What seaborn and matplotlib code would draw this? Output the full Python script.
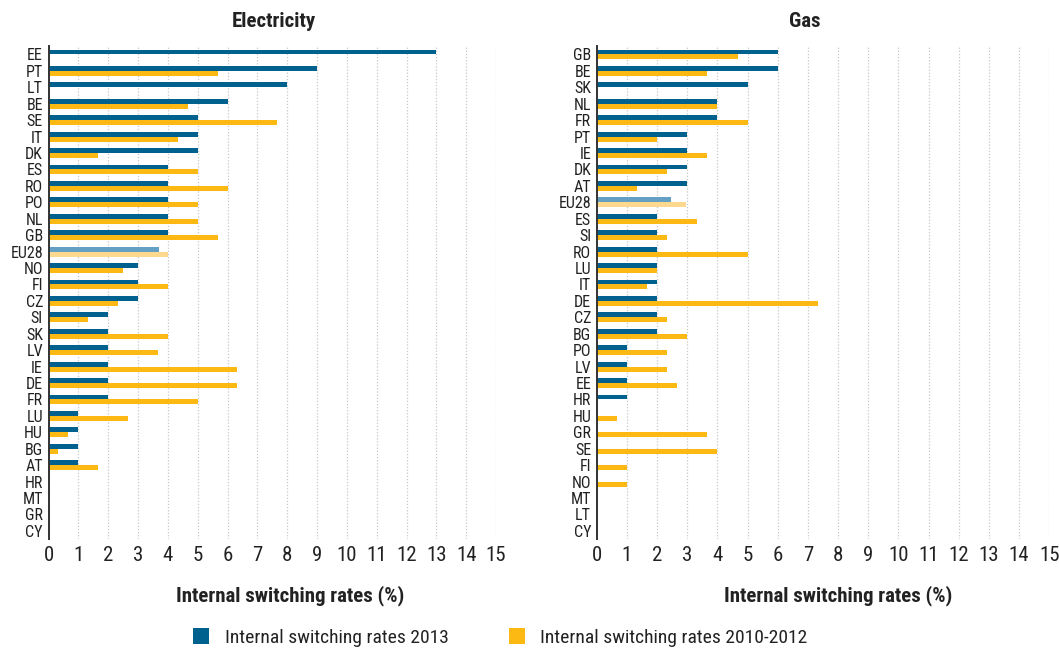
import pandas as pd
import numpy as np
import seaborn as sns
import matplotlib.pyplot as plt
from matplotlib.lines import Line2D

# Electricity panel
elec_countries = ["EE", "PT", "LT", "BE", "SE", "IT", "DK", "ES", "RO", "PO",
                  "NL", "GB", "EU28", "NO", "FI", "CZ", "SI", "SK", "LV", "IE",
                  "DE", "FR", "LU", "HU", "BG", "AT", "HR", "MT", "GR", "CY"]
elec_2013 = [13, 9, 8, 6, 5, 5, 5, 4, 4, 4,
             4, 4, 3.7, 3, 3, 3, 2, 2, 2, 2,
             2, 2, 1, 1, 1, 1, None, None, None, None]
elec_2010_2012 = [None, 5.67, None, 4.67, 7.67, 4.33, 1.67, 5, 6, 5,
                  5, 5.67, 4, 2.5, 4, 2.33, 1.33, 4, 3.67, 6.33,
                  6.33, 5, 2.67, 0.67, 0.33, 1.67, None, None, None, None]

# Gas panel
gas_countries = ["GB", "BE", "SK", "NL", "FR", "PT", "IE", "DK", "AT", "EU28",
                 "ES", "SI", "RO", "LU", "IT", "DE", "CZ", "BG", "PO", "LV",
                 "EE", "HR", "HU", "GR", "SE", "FI", "NO", "MT", "LT", "CY"]
gas_2013 = [6, 6, 5, 4, 4, 3, 3, 3, 3, 2.45,
            2, 2, 2, 2, 2, 2, 2, 2, 1, 1,
            1, 1, None, None, None, None, None, None, None, None]
gas_2010_2012 = [4.67, 3.67, None, 4, 5, 2, 3.67, 2.33, 1.33, 2.95,
                 3.33, 2.33, 5, 2, 1.67, 7.33, 2.33, 3, 2.33, 2.33,
                 2.67, None, 0.67, 3.67, 4, 1, 1, None, None, None]

SERIES = ["Internal switching rates 2013", "Internal switching rates 2010-2012"]
COLORS = ["#00618F", "#FDB913"]
EU_COLORS = ["#64A0C3", "#FDD98F"]
TEXT = "#222222"


def _long(countries, s1, s2):
    df = pd.DataFrame({"country": countries, SERIES[0]: s1, SERIES[1]: s2})
    df = df.melt(id_vars="country", var_name="series", value_name="value")
    df["value"] = pd.to_numeric(df["value"], errors="coerce")
    return df.dropna(subset=["value"])


def _panel(ax, countries, s1, s2, title, title_x, label_x):
    df = _long(countries, s1, s2)
    sns.barplot(data=df, y="country", x="value", hue="series", order=countries,
                hue_order=SERIES, palette=COLORS, orient="h", width=0.6,
                linewidth=0, saturation=1, errorbar=None, legend=False, ax=ax)
    # lighter shade for the EU average
    eu = countries.index("EU28")
    for i, cont in enumerate(ax.containers):
        for bar in cont:
            yc = bar.get_y() + bar.get_height() / 2
            if int(round(yc)) == eu:
                bar.set_facecolor(EU_COLORS[i])
    ax.set_xlim(0, 15)
    ax.set_ylim(len(countries) - 0.5, -0.5)
    ax.set_xticks(range(16))
    ax.grid(axis="x", linestyle=(0, (1, 1.5)), color="#c8c8c8", linewidth=0.9)
    ax.grid(axis="y", visible=False)
    ax.set_axisbelow(True)
    for s in ["top", "right", "bottom"]:
        ax.spines[s].set_visible(False)
    ax.spines["left"].set_color("#333333")
    ax.spines["left"].set_linewidth(1.4)
    ax.tick_params(axis="both", length=0, colors=TEXT)
    ax.tick_params(axis="y", labelsize=11.5, pad=4)
    ax.tick_params(axis="x", labelsize=15, pad=5)
    ax.set_ylabel("")
    ax.set_xlabel("Internal switching rates (%)", fontsize=15, fontweight="bold",
                  color=TEXT)
    ax.xaxis.set_label_coords(label_x, -0.093)
    ax.set_title(title, fontsize=15, fontweight="bold", color=TEXT,
                 x=title_x, pad=14)


sns.set_theme(style="white")
plt.rcParams["font.family"] = ["Roboto Condensed", "Liberation Sans", "DejaVu Sans"]

fig = plt.figure(figsize=(10.59, 6.48), dpi=100)
ax1 = fig.add_axes([0.0458, 0.168, 0.4226, 0.7606])
ax2 = fig.add_axes([0.5635, 0.168, 0.4273, 0.7606])

_panel(ax1, elec_countries, elec_2013, elec_2010_2012, "Electricity", 0.504, 0.54)
_panel(ax2, gas_countries, gas_2013, gas_2010_2012, "Gas", 0.46, 0.533)

handles = [Line2D([], [], marker="s", linestyle="", markersize=11,
                  markerfacecolor=c, markeredgewidth=0) for c in COLORS]
fig.legend(handles, SERIES, loc="center", bbox_to_anchor=(0.4726, 0.016),
           ncol=2, frameon=False, fontsize=14, columnspacing=3.1,
           handlelength=0.8, handletextpad=0.8, labelcolor=TEXT)

fig.savefig("out.png", dpi=100)
